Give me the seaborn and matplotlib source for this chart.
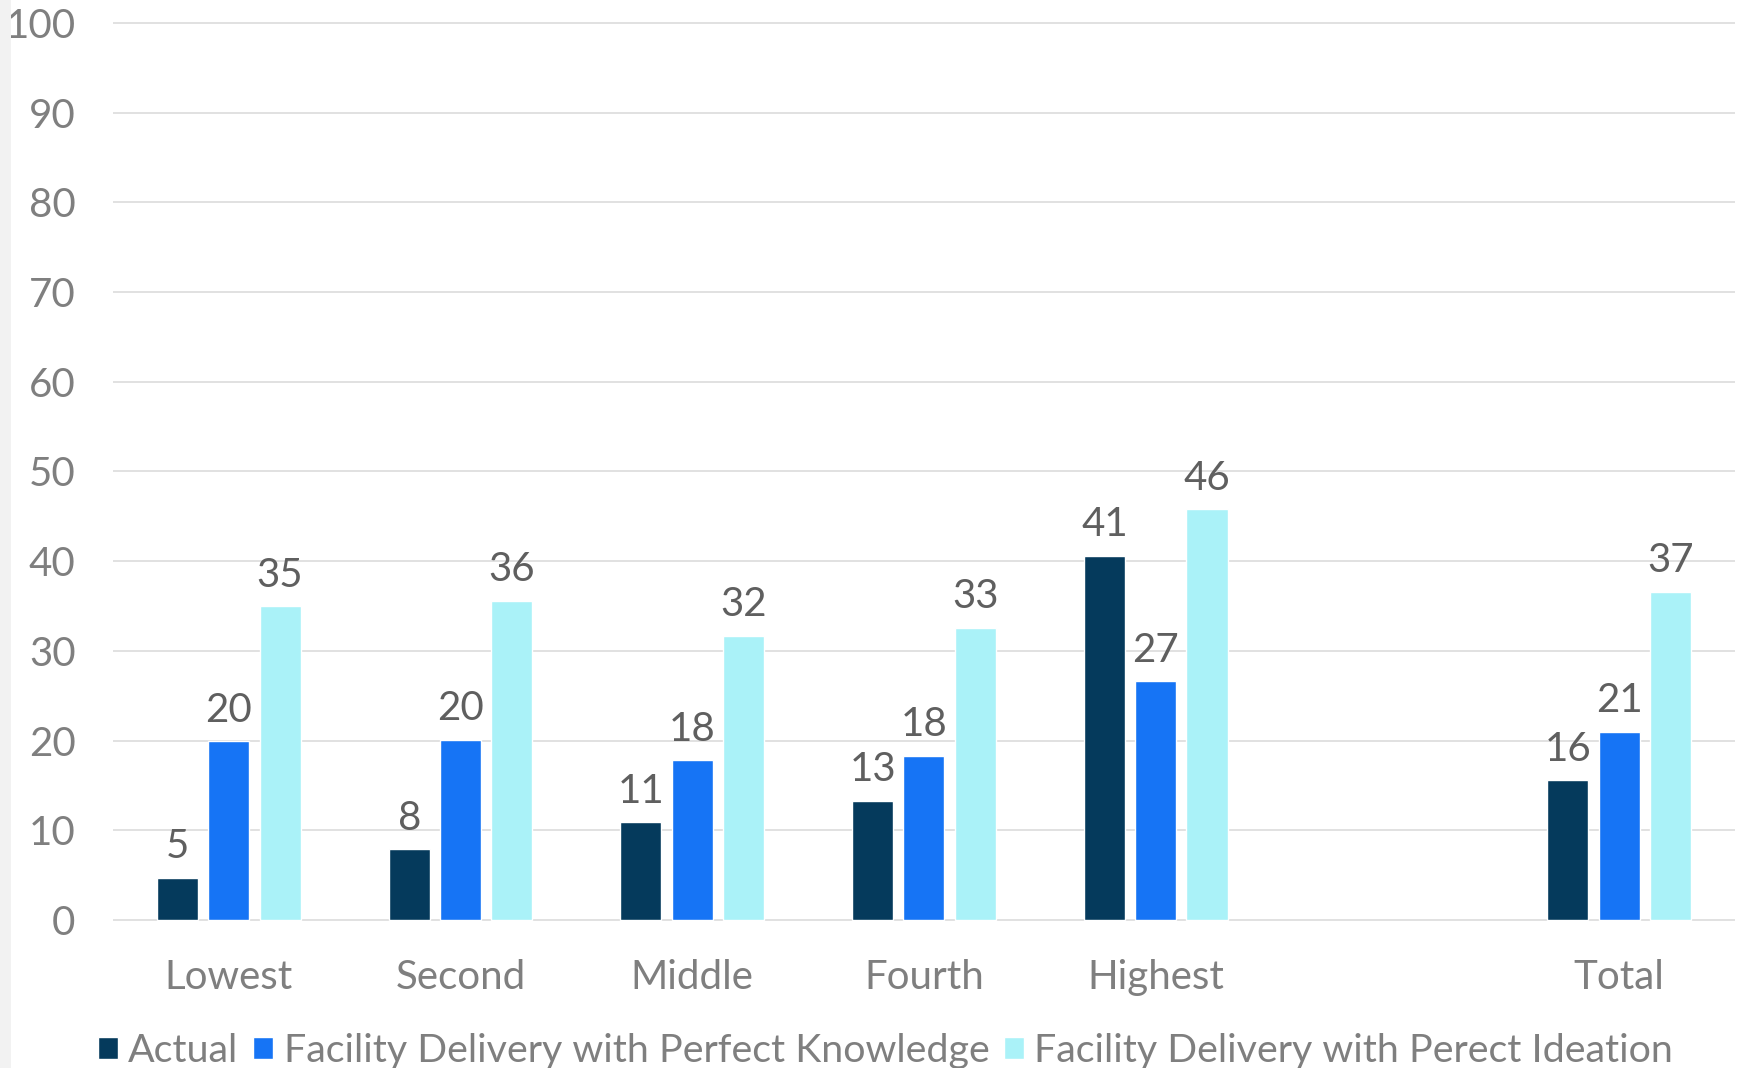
import math
import matplotlib
matplotlib.use("Agg")
import matplotlib.pyplot as plt
from matplotlib.patches import Rectangle
import pandas as pd
import seaborn as sns

# Wealth quintiles plus the overall total (a blank slot separates them)
groups = ["Lowest", "Second", "Middle", "Fourth", "Highest", "Total"]
x_order = ["Lowest", "Second", "Middle", "Fourth", "Highest", " ", "Total"]

series = [
    "Actual",
    "Facility Delivery with Perfect Knowledge",
    "Facility Delivery with Perect Ideation",
]
actual = [4.7, 7.9, 10.9, 13.3, 40.6, 15.6]
knowledge = [19.9, 20.1, 17.8, 18.3, 26.6, 21.0]
ideation = [35.0, 35.6, 31.7, 32.6, 45.8, 36.6]

colors = ["#053a5c", "#1674f5", "#aaf2f8"]
y_ticks = list(range(0, 101, 10))

df = pd.DataFrame({
    "group": groups * 3,
    "series": [s for s in series for _ in groups],
    "value": actual + knowledge + ideation,
})

sns.set_theme(style="white")
plt.rcParams["font.family"] = ["Lato", "DejaVu Sans"]

FS = 29
TICK_GREY = "#7f7f7f"
LABEL_GREY = "#5f5f5f"

fig = plt.figure(figsize=(17.46, 10.68), dpi=100)
fig.patches.append(Rectangle((0, 0), 11 / 1746, 1, transform=fig.transFigure,
                             facecolor="#f2f2f2", edgecolor="none", zorder=0))

ax = fig.add_axes([0.0647, 0.1344, 0.9290, 0.8525])
sns.barplot(data=df, x="group", y="value", hue="series", order=x_order,
            hue_order=series, palette=dict(zip(series, colors)),
            width=0.664, gap=0.2, saturation=1, errorbar=None, ax=ax)

handles, labels = ax.get_legend_handles_labels()
if ax.get_legend() is not None:
    ax.get_legend().remove()

for container in ax.containers:
    vals = [b.get_height() for b in container]
    ax.bar_label(container, labels=[str(math.floor(v + 0.5)) for v in vals],
                 padding=9, fontsize=FS, color=LABEL_GREY)

ax.set_ylim(-0.5, 101)
ax.set_yticks(y_ticks)
ax.set_xlabel("")
ax.set_ylabel("")
ax.grid(axis="y", color="#d9d9d9", linewidth=1.1)
ax.grid(axis="x", visible=False)
ax.set_axisbelow(True)
sns.despine(ax=ax, left=True, bottom=True)
ax.tick_params(axis="y", length=0, pad=27, labelsize=FS, labelcolor=TICK_GREY)
ax.tick_params(axis="x", length=0, pad=25, labelsize=FS, labelcolor=TICK_GREY)

fig.legend(handles, labels, loc="center left", bbox_to_anchor=(0.0561, 0.016),
           ncol=3, frameon=False, fontsize=28.4, labelcolor=TICK_GREY,
           handlelength=0.5, handleheight=0.5, handletextpad=0.27,
           columnspacing=0.37, borderaxespad=0, borderpad=0)

fig.savefig("out.png", dpi=100, facecolor="white")
